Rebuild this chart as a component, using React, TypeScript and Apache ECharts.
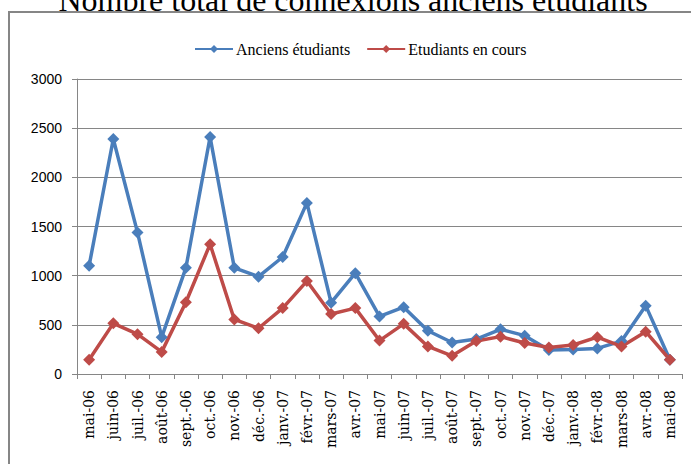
import React, { useEffect, useRef } from "react";
import * as echarts from "echarts";

const categories = [
  "mai-06", "juin-06", "juil.-06", "août-06", "sept.-06", "oct.-06", "nov.-06", "déc.-06",
  "janv.-07", "févr.-07", "mars-07", "avr.-07", "mai-07", "juin-07", "juil.-07", "août-07",
  "sept.-07", "oct.-07", "nov.-07", "déc.-07", "janv.-08", "févr.-08", "mars-08", "avr.-08", "mai-08",
];
const anciens = [
  1100, 2390, 1440, 375, 1080, 2410, 1080, 990, 1190, 1740, 725, 1025, 585, 680, 440, 320,
  355, 455, 390, 245, 250, 260, 335, 695, 145,
];
const enCours = [
  145, 515, 405, 225, 730, 1320, 555, 465, 670, 945, 610, 670, 340, 510, 280, 185,
  335, 380, 315, 270, 295, 375, 280, 430, 145,
];
const seriesNames = ["Anciens étudiants", "Etudiants en cours"];
const titleText = "Nombre total de connexions anciens étudiants";

export default function App() {
  const ref = useRef<HTMLDivElement>(null);
  useEffect(() => {
    document.body.style.margin = "0";
    const chart = echarts.init(ref.current!, null, { renderer: "svg" });
    const gray = "#868686";
    chart.setOption({
      animation: false,
      backgroundColor: "#fff",
      graphic: [
        {
          type: "rect",
          shape: { x: 9, y: 12, width: 720, height: 520 },
          style: { fill: "none", stroke: gray, lineWidth: 2 },
          z: -1,
        },
        {
          type: "text",
          x: 353,
          y: 0,
          style: {
            text: titleText,
            font: "32px 'Liberation Serif'",
            fill: "#000",
            align: "center",
            verticalAlign: "middle",
          },
        },
      ],
      legend: {
        left: 189,
        top: 36,
        itemWidth: 38,
        itemHeight: 10,
        itemGap: 16,
        lineStyle: { width: 2 },
        textStyle: { fontFamily: "Liberation Serif", fontSize: 16, color: "#000", padding: [0, 0, 0, -2] },
        data: seriesNames,
      },
      grid: { left: 77, right: 9, top: 79, bottom: 90 },
      xAxis: {
        type: "category",
        data: categories,
        boundaryGap: true,
        axisLine: { lineStyle: { color: gray, width: 1 } },
        axisTick: { show: true, length: 5, lineStyle: { color: gray } },
        axisLabel: {
          interval: 0,
          rotate: 90,
          margin: 16,
          fontFamily: "DejaVu Serif",
          fontSize: 14,
          color: "#000",
        },
      },
      yAxis: {
        type: "value",
        min: 0,
        max: 3000,
        interval: 500,
        axisLine: { show: true, lineStyle: { color: gray, width: 1 } },
        axisTick: { show: true, length: 5, lineStyle: { color: gray } },
        splitLine: { lineStyle: { color: gray, width: 1 } },
        axisLabel: {
          margin: 15,
          fontFamily: "Liberation Sans",
          fontSize: 14,
          color: "#000",
          formatter: (v: number) => String(v),
        },
      },
      series: [
        {
          name: seriesNames[0],
          type: "line",
          data: anciens,
          symbol: "diamond",
          symbolSize: 12,
          color: "#4A7EBB",
          lineStyle: { width: 3.5, color: "#4A7EBB" },
          itemStyle: { color: "#4A7EBB" },
        },
        {
          name: seriesNames[1],
          type: "line",
          data: enCours,
          symbol: "diamond",
          symbolSize: 12,
          color: "#BE4B48",
          lineStyle: { width: 3.5, color: "#BE4B48" },
          itemStyle: { color: "#BE4B48" },
        },
      ],
    });
    return () => chart.dispose();
  }, []);
  return <div ref={ref} style={{ width: 691, height: 464 }} />;
}
